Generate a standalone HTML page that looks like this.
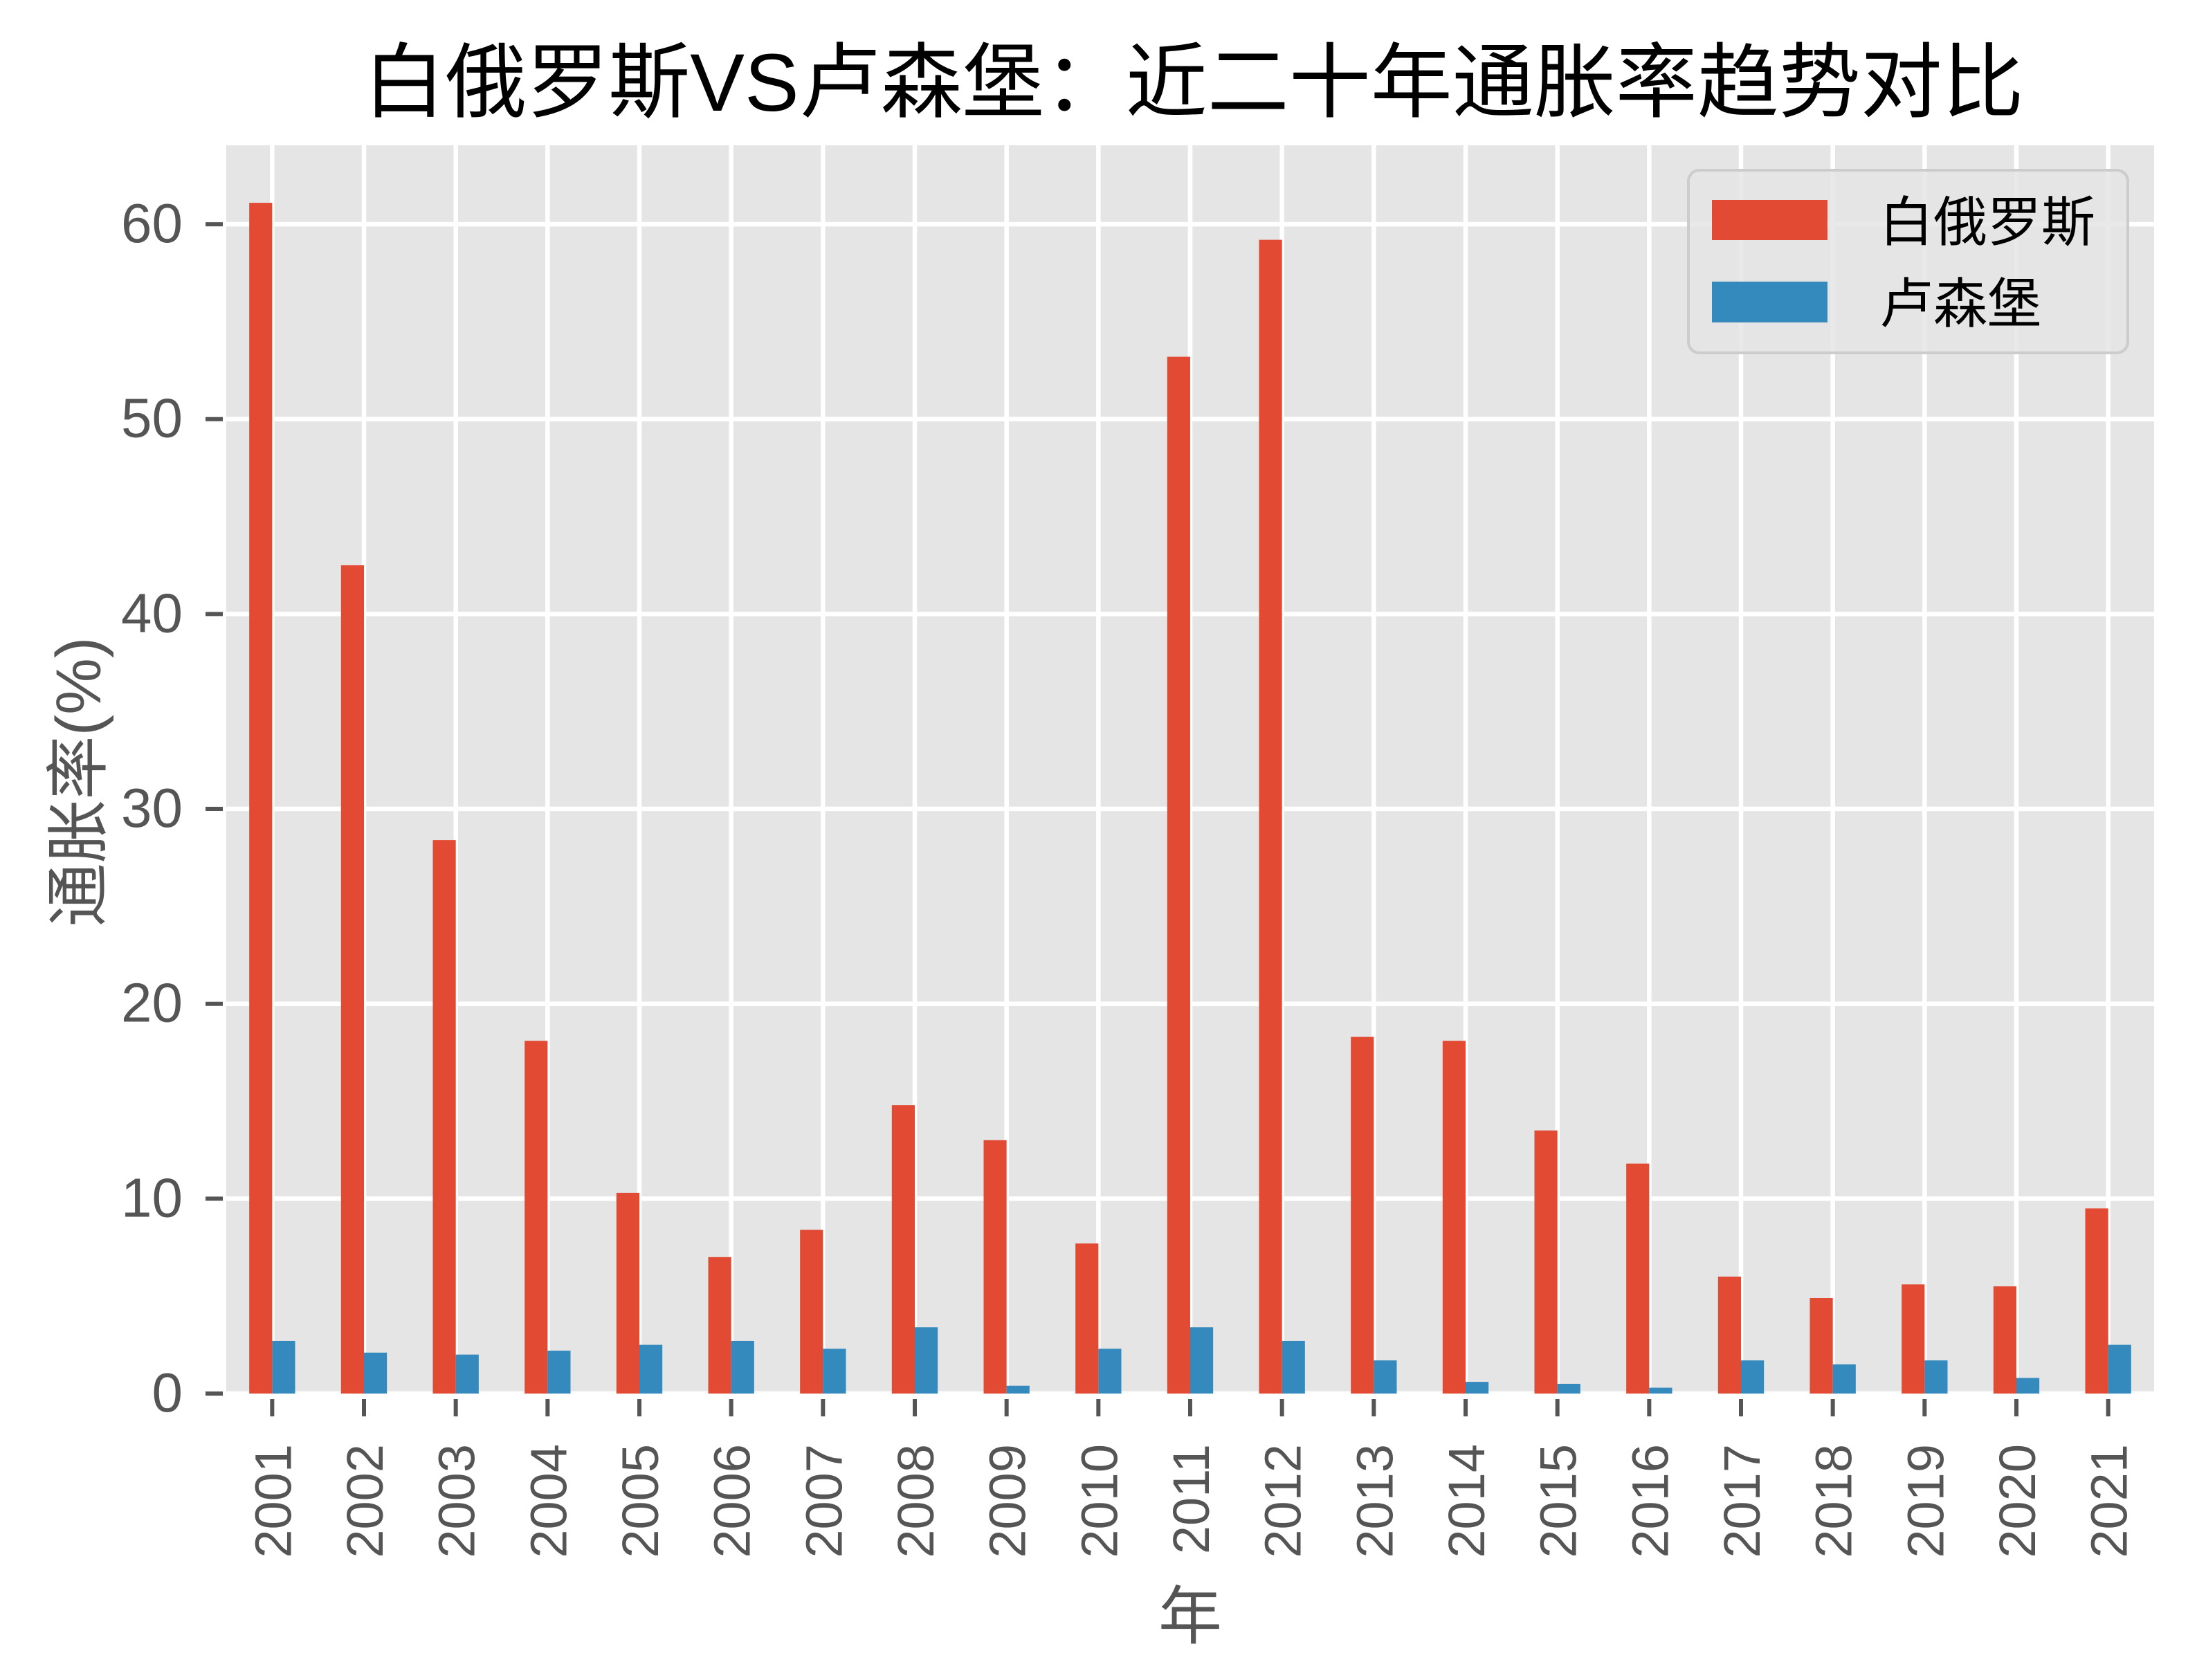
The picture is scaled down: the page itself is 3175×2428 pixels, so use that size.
<!DOCTYPE html>
<html><head><meta charset="utf-8">
<style>
html,body{margin:0;padding:0;background:#fff;}
svg{display:block;}
text{font-family:"Liberation Sans","Noto Sans CJK SC",sans-serif;}
</style></head>
<body>
<svg id="chart" width="3175" height="2428" viewBox="0 0 3175 2428" xmlns="http://www.w3.org/2000/svg">
  <rect x="0" y="0" width="3175" height="2428" fill="#ffffff"/>
  <text x="1725" y="160" font-size="118" fill="#000" text-anchor="middle">白俄罗斯VS卢森堡：近二十年通胀率趋势对比</text>
  <rect x="327" y="210" width="2786" height="1804" fill="#e5e5e5"/>
  <g id="grid"></g>
  <g id="bars"></g>
  <g id="ticks"></g>
  <text transform="translate(145,1130) rotate(-90)" font-size="92" fill="#555" text-anchor="middle">通胀率(%)</text>
  <text x="1720" y="2368" font-size="92" fill="#555" text-anchor="middle">年</text>
  <g>
    <rect x="2440" y="246" width="635" height="264" rx="16" fill="#e5e5e5" fill-opacity="0.85" stroke="#cccccc" stroke-width="4"/>
    <rect x="2474" y="289" width="167" height="58" fill="#E24A33"/>
    <text x="2716" y="348" font-size="78" fill="#000">白俄罗斯</text>
    <rect x="2474" y="407" width="167" height="59" fill="#348ABD"/>
    <text x="2716" y="466" font-size="78" fill="#000">卢森堡</text>
  </g>
</svg>
<script>
const years = ["2001","2002","2003","2004","2005","2006","2007","2008","2009","2010","2011","2012","2013","2014","2015","2016","2017","2018","2019","2020","2021"];
const belarus = [61.1,42.5,28.4,18.1,10.3,7.0,8.4,14.8,13.0,7.7,53.2,59.2,18.3,18.1,13.5,11.8,6.0,4.9,5.6,5.5,9.5];
const luxembourg = [2.7,2.1,2.0,2.2,2.5,2.7,2.3,3.4,0.4,2.3,3.4,2.7,1.7,0.6,0.5,0.3,1.7,1.5,1.7,0.8,2.5];
const yTicks = [0,10,20,30,40,50,60];

const NS = "http://www.w3.org/2000/svg";
const L = 327, R = 3113, T = 210, B = 2014, YMAX = 64.05;
const unit = (R - L) / years.length;
function xPos(i){ return L + unit * (i + 0.5); }
function yPos(v){ return B - (v / YMAX) * (B - T); }
function mk(tag, attrs, parent){
  const e = document.createElementNS(NS, tag);
  for (const k in attrs) e.setAttribute(k, attrs[k]);
  parent.appendChild(e);
  return e;
}
const grid = document.getElementById('grid');
const bars = document.getElementById('bars');
const ticks = document.getElementById('ticks');

yTicks.forEach(function(v){
  const y = yPos(v);
  const g = mk('line', {x1:L, x2:R, y1:y, y2:y, stroke:'#fff', 'stroke-width':6.5}, grid);
  
  
  const tk = mk('line', {x1:297, x2:322, y1:y, y2:y, stroke:'#555', 'stroke-width':6}, ticks);
  
  
  const t = mk('text', {x:264, y:y + 26, 'font-size':80, fill:'#555', 'text-anchor':'end'}, ticks);
  t.textContent = v;
  
  
});

years.forEach(function(yr, i){
  const x = xPos(i);
  const g = mk('line', {x1:x, x2:x, y1:T, y2:B, stroke:'#fff', 'stroke-width':6.5}, grid);
  
  
  const bw = unit * 0.25;
  const yb = yPos(belarus[i]);
  const r1 = mk('rect', {x:x - bw, y:yb, width:bw, height:B - yb, fill:'#E24A33'}, bars);
  
  
  const yl = yPos(luxembourg[i]);
  const r2 = mk('rect', {x:x, y:yl, width:bw, height:B - yl, fill:'#348ABD'}, bars);
  
  
  const tk = mk('line', {x1:x, x2:x, y1:2022, y2:2047, stroke:'#555', 'stroke-width':6}, ticks);
  
  
  const t = mk('text', {transform:'translate(' + (x + 27) + ',2087) rotate(-90)', 'font-size':74, fill:'#555', 'text-anchor':'end'}, ticks);
  t.textContent = yr;
  
  
});
</script>
</body></html>
